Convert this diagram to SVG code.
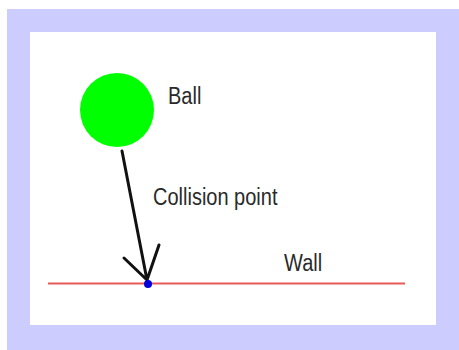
<svg xmlns="http://www.w3.org/2000/svg" width="459" height="350" viewBox="0 0 459 350">
<style>
.lbl{font-family:"Liberation Sans",Arial,sans-serif;font-size:20px;fill:#2a2a2a;}
.arrow{stroke:#111111;stroke-width:3;fill:none;stroke-linecap:round;stroke-linejoin:round;}
</style>
<rect x="0" y="0" width="459" height="350" fill="#ffffff"/>
<rect x="7" y="9" width="452" height="341" fill="#ccccff"/>
<rect x="30" y="32" width="406" height="293" fill="#ffffff"/>
<g id="ball">
<circle cx="117" cy="110" r="37" fill="#00ff00"/>
<text class="lbl" transform="translate(168,104) scale(1,1.15)">Ball</text>
</g>
<g id="wall">
<line x1="48" y1="283.5" x2="405" y2="283.5" stroke="#e85a5a" stroke-width="2"/>
<text class="lbl" transform="translate(284,271) scale(1,1.15)">Wall</text>
</g>
<g id="connectors">
<path class="arrow" d="M122,151 L147,280 M124,258 L147,280 L159,245"/>
</g>
<g id="collision">
<circle cx="148" cy="284" r="4" fill="#0000dd"/>
<text class="lbl" transform="translate(153,205) scale(1,1.15)">Collision point</text>
</g>
</svg>
